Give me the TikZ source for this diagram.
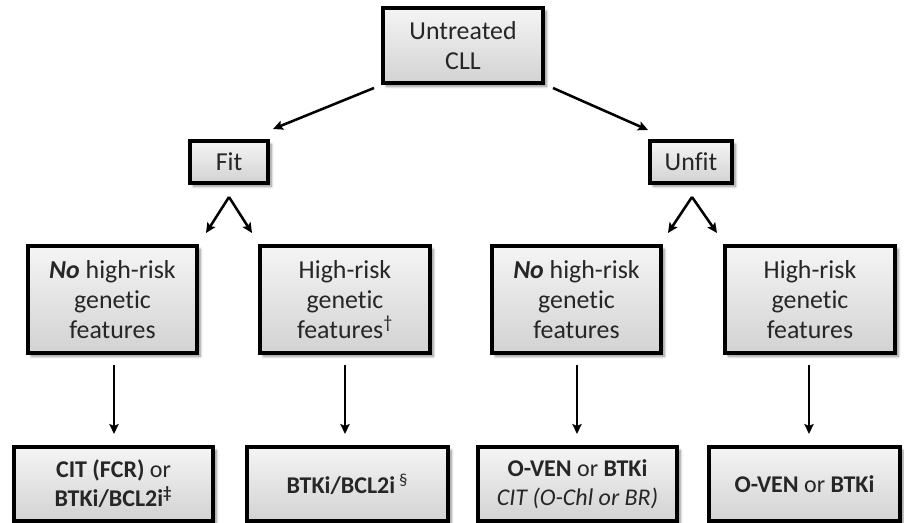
\documentclass[tikz,border=0pt]{standalone}
\usepackage{fontspec}
\setmainfont[RawFeature={-liga;-calt;-dlig;-clig}]{Carlito}
\usetikzlibrary{arrows.meta,shadows.blur}
\begin{document}
\begin{tikzpicture}[x=0.75pt,y=-0.75pt,
  box/.style={draw=black,line width=2.5pt,top color=gray!8,bottom color=gray!35,
    blur shadow={shadow xshift=2.5pt,shadow yshift=-2.5pt,shadow blur steps=6,shadow opacity=45},
    align=center,inner sep=0pt,text=black!85,
    font=\fontsize{19.4pt}{22.5pt}\selectfont},
  sz/.style 2 args={minimum width=#1*0.75pt,minimum height=#2*0.75pt},
  bot/.style={font=\fontsize{18pt}{21.75pt}\selectfont},
  arr/.style={line width=1.9pt,-{Stealth[length=7.5pt,width=7pt,inset=1.5pt]}}]
\useasboundingbox (0,0) rectangle (904,523);
\node[box,sz={160}{75}] (ut) at (463,45.5) {Untreated\\CLL};
\node[box,sz={78}{42}] (fit) at (229,162) {Fit};
\node[box,sz={82}{42}] (unfit) at (691,162) {Unfit};
\node[box,sz={169}{107}] (a3) at (112.5,299.5) {\textbf{\textit{No}} high-risk\\genetic\\features};
\node[box,sz={170}{107}] (b3) at (345,299.5) {High-risk\\genetic\\features\textsuperscript{\textdagger}};
\node[box,sz={169}{107}] (c3) at (576.5,299.5) {\textbf{\textit{No}} high-risk\\genetic\\features};
\node[box,sz={170}{107}] (d3) at (810,299.5) {High-risk\\genetic\\features};
\node[box,bot,sz={199}{74}] (a4) at (113.5,484) {\textbf{CIT (FCR)} or\\\textbf{BTKi/BCL2i}\textsuperscript{\textbf{\textdaggerdbl}}};
\node[box,bot,sz={201}{74}] (b4) at (347.5,484) {\textbf{BTKi/BCL2i}\,\textsuperscript{\textsection}};
\node[box,bot,sz={199}{74}] (c4) at (577.5,484) {\textbf{O-VEN} or \textbf{BTKi}\\\textit{CIT (O-Chl or BR)}};
\node[box,bot,sz={191}{74}] (d4) at (804.5,484) {\textbf{O-VEN} or \textbf{BTKi}};
% connector coordinates
\coordinate (utL) at (374,88);
\coordinate (fitT) at (273,129);
\coordinate (utR) at (553,88);
\coordinate (unfitT) at (648,130);
\coordinate (fitA) at (229,197);
\coordinate (a3T) at (206,233);
\coordinate (b3T) at (252,233);
\coordinate (unfitA) at (692,197);
\coordinate (c3T) at (668,233);
\coordinate (d3T) at (717,233);
\draw[arr] (utL) -- (fitT);
\draw[arr] (utR) -- (unfitT);
\draw[arr] (fitA) -- (a3T);
\draw[arr] (fitA) -- (b3T);
\draw[arr] (unfitA) -- (c3T);
\draw[arr] (unfitA) -- (d3T);
\foreach \u/\v/\x in {a3/a4/114, b3/b4/345, c3/c4/577, d3/d4/809}{
  \coordinate (\u B) at (\x,365);
  \coordinate (\v T) at (\x,434);
  \draw[arr] (\u B) -- (\v T);
}
\end{tikzpicture}
\end{document}
